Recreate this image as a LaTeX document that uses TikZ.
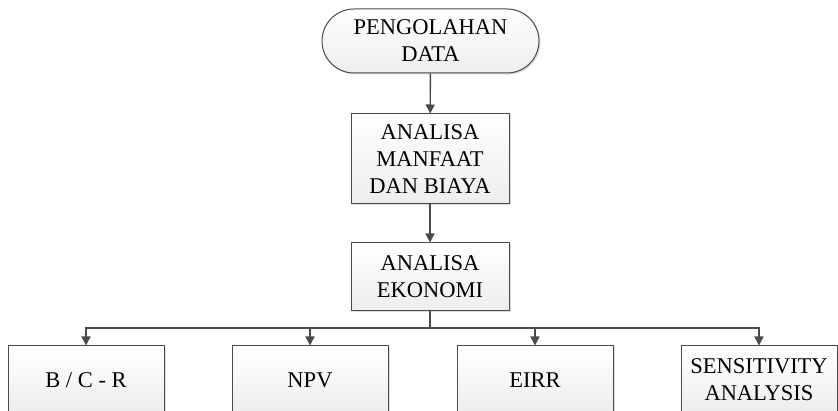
\documentclass[tikz,border=0pt]{standalone}
\usepackage{fontspec}
\setmainfont{Liberation Serif}
\usetikzlibrary{arrows.meta,shadows}
\definecolor{edge}{HTML}{4A4A4A}
\begin{document}
\begin{tikzpicture}[x=1pt,y=-1pt,
  boxstyle/.style={draw=edge,line width=1pt,top color=white,bottom color=gray!14,
    drop shadow={shadow xshift=1.5pt,shadow yshift=-1.5pt,fill=gray!45,opacity=0.6},
    align=center,inner sep=0pt,font=\fontsize{22.5}{27}\selectfont},
  termstyle/.style={boxstyle,rounded corners=32pt},
  conn/.style={draw=edge,line width=1.4pt,-{Triangle[length=9pt,width=9pt]}},
  plain/.style={draw=edge,line width=1.4pt}]
\useasboundingbox (0,0) rectangle (838,411);
\clip (0,0) rectangle (838,411);
\fill[white] (0,0) rectangle (838,411);
\node[termstyle,minimum width=217pt,minimum height=64pt] (t) at (430.5,41) {PENGOLAHAN\\DATA};
\node[boxstyle,minimum width=158pt,minimum height=90pt] (b2) at (430,159) {ANALISA\\MANFAAT\\DAN BIAYA};
\node[boxstyle,minimum width=158pt,minimum height=68pt] (b3) at (430,277) {ANALISA\\EKONOMI};
\node[boxstyle,minimum width=156pt,minimum height=68pt] (c1) at (86,380) {B / C - R};
\node[boxstyle,minimum width=156pt,minimum height=68pt] (c2) at (310,380) {NPV};
\node[boxstyle,minimum width=156pt,minimum height=68pt] (c3) at (535,380) {EIRR};
\node[boxstyle,minimum width=156pt,minimum height=68pt] (c4) at (759,380) {SENSITIVITY\\ANALYSIS};
\coordinate (bus) at (430,328);
\draw[conn] (t) -- (b2);
\draw[conn] (b2) -- (b3);
\draw[plain] (b3) -- (bus);
\draw[conn] (bus) -| (c1);
\draw[conn] (bus) -| (c2);
\draw[conn] (bus) -| (c3);
\draw[conn] (bus) -| (c4);
\end{tikzpicture}
\end{document}
